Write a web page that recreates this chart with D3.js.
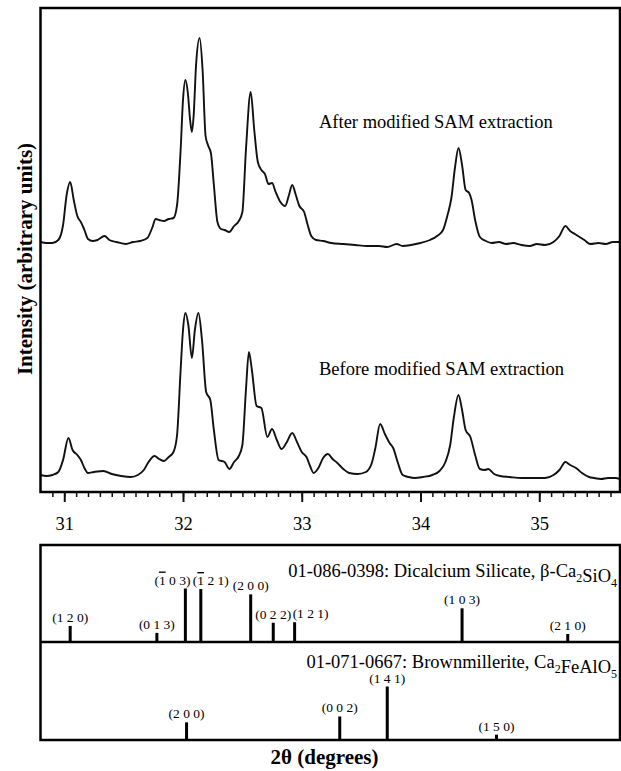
<!DOCTYPE html>
<html>
<head>
<meta charset="utf-8">
<script src="https://cdn.jsdelivr.net/npm/d3@7"></script>
<style>
  body { margin: 0; background: #fff; }
  text { font-family: "Liberation Serif", "Times New Roman", serif; fill: #000; }
</style>
</head>
<body>
<svg id="chart" width="621" height="771"></svg>
<script>
// XRD patterns, 2-theta (deg) vs intensity (arbitrary units, as stacked in the figure)
const afterTheta = [30.80, 30.85, 30.90, 30.95, 30.99, 31.02, 31.05, 31.08, 31.11, 31.14, 31.17, 31.20, 31.24, 31.28, 31.34, 31.38, 31.44, 31.52, 31.58, 31.64, 31.70, 31.74, 31.77, 31.80, 31.84, 31.88, 31.92, 31.95, 31.98, 32.00, 32.02, 32.04, 32.06, 32.075, 32.09, 32.11, 32.14, 32.165, 32.19, 32.21, 32.235, 32.26, 32.29, 32.32, 32.35, 32.39, 32.43, 32.47, 32.50, 32.53, 32.57, 32.60, 32.63, 32.66, 32.69, 32.72, 32.75, 32.78, 32.82, 32.86, 32.89, 32.92, 32.95, 32.98, 33.02, 33.05, 33.08, 33.12, 33.18, 33.25, 33.35, 33.45, 33.55, 33.65, 33.72, 33.80, 33.85, 33.92, 34.00, 34.08, 34.14, 34.19, 34.23, 34.26, 34.29, 34.32, 34.35, 34.38, 34.41, 34.43, 34.46, 34.50, 34.55, 34.60, 34.66, 34.72, 34.78, 34.85, 34.92, 34.98, 35.05, 35.12, 35.17, 35.22, 35.26, 35.30, 35.34, 35.38, 35.43, 35.50, 35.56, 35.62, 35.68];
const afterCounts = [250, 249, 249, 252, 267, 297, 310, 292, 276, 270, 262, 253, 251, 252, 256, 252, 250, 248, 250, 251, 254, 264, 273, 272, 271, 273, 274, 287, 342, 392, 412, 400, 372, 360, 377, 427, 454, 422, 356, 347, 339, 307, 270, 263, 262, 260, 266, 271, 280, 342, 400, 362, 330, 322, 318, 308, 309, 300, 290, 286, 296, 307, 297, 286, 280, 267, 256, 252, 251, 249, 248, 247, 246, 246, 245, 248, 246, 247, 249, 252, 256, 262, 278, 294, 324, 344, 327, 302, 299, 292, 272, 255, 251, 249, 250, 248, 249, 247, 246, 248, 247, 250, 256, 266, 261, 258, 255, 252, 248, 249, 248, 250, 250];

const beforeTheta = [30.80, 30.85, 30.90, 30.95, 30.99, 31.035, 31.07, 31.11, 31.14, 31.17, 31.20, 31.25, 31.33, 31.40, 31.48, 31.56, 31.62, 31.67, 31.71, 31.76, 31.80, 31.84, 31.88, 31.92, 31.95, 31.98, 32.00, 32.02, 32.045, 32.075, 32.10, 32.13, 32.16, 32.195, 32.23, 32.26, 32.30, 32.35, 32.39, 32.43, 32.47, 32.50, 32.53, 32.555, 32.58, 32.62, 32.66, 32.71, 32.75, 32.79, 32.83, 32.87, 32.92, 32.96, 33.00, 33.04, 33.07, 33.10, 33.14, 33.18, 33.22, 33.26, 33.30, 33.35, 33.40, 33.47, 33.54, 33.59, 33.62, 33.66, 33.70, 33.74, 33.77, 33.81, 33.85, 33.90, 33.95, 34.02, 34.10, 34.16, 34.21, 34.25, 34.28, 34.32, 34.35, 34.38, 34.42, 34.46, 34.50, 34.54, 34.57, 34.62, 34.67, 34.75, 34.85, 34.95, 35.05, 35.12, 35.17, 35.22, 35.26, 35.31, 35.36, 35.42, 35.46, 35.52, 35.58, 35.64, 35.68];
const beforeCounts = [17, 16, 17, 20, 32, 54, 42, 37, 32, 24, 19, 20, 21, 18, 16, 15, 17, 22, 30, 36, 33, 31, 35, 40, 57, 122, 162, 179, 167, 134, 162, 179, 152, 100, 92, 62, 32, 30, 23, 30, 36, 47, 102, 140, 122, 86, 84, 55, 63, 52, 43, 49, 59, 50, 40, 35, 26, 19, 24, 34, 38, 33, 29, 23, 19, 18, 20, 29, 44, 68, 58, 49, 44, 29, 17, 15, 14, 15, 17, 21, 30, 47, 74, 97, 82, 62, 55, 37, 23, 22, 23, 18, 16, 15, 14, 14, 14, 17, 22, 30, 27, 24, 19, 15, 14, 13, 14, 14, 13];

const xTicks = [31, 32, 33, 34, 35];

// reference patterns (relative intensity, strongest = 100)
const c2sTheta = [31.05, 31.78, 32.02, 32.15, 32.57, 32.76, 32.94, 34.35, 35.24];
const c2sInt = [30, 17, 100, 99, 89, 36, 37, 63, 15];
const c2sHkl = ["(1 2 0)", "(0 1 3)", "(-1 0 3)", "(-1 2 1)", "(2 0 0)", "(0 2 2)", "(1 2 1)", "(1 0 3)", "(2 1 0)"];

const c4afTheta = [32.03, 33.32, 33.72, 34.64];
const c4afInt = [33, 44, 100, 10];
const c4afHkl = ["(2 0 0)", "(0 0 2)", "(1 4 1)", "(1 5 0)"];

const svg = d3.select("#chart");

const left = 40.5, right = 620;
const top1 = 8, bottom1 = 492;
const top2 = 545, mid2 = 642, bottom2 = 740;

const x = d3.scaleLinear().domain([30.8, 35.68]).range([left, right]);
const y = d3.scaleLinear().domain([0, 484]).range([bottom1, top1]);
const hRef = d3.scaleLinear().domain([0, 100]).range([0, 53.5]);

// --- top panel ---
const line = d3.line()
  .x(d => x(d[0]))
  .y(d => y(d[1]))
  .curve(d3.curveMonotoneX);

[[afterTheta, afterCounts], [beforeTheta, beforeCounts]].forEach(([th, ct]) => {
  svg.append("path")
    .datum(d3.zip(th, ct))
    .attr("fill", "none")
    .attr("stroke", "#111")
    .attr("stroke-width", 1.9)
    .attr("stroke-linejoin", "round")
    .attr("d", line);
});

svg.append("rect")
  .attr("x", left).attr("y", top1)
  .attr("width", right - left).attr("height", bottom1 - top1)
  .attr("fill", "none").attr("stroke", "#000").attr("stroke-width", 2.5);

// minor + major ticks
const xAxisMinor = d3.axisBottom(x)
  .tickValues(d3.range(309, 357).map(d => d / 10))
  .tickSize(5).tickFormat("");
const xAxisMajor = d3.axisBottom(x)
  .tickValues(xTicks).tickSize(10).tickPadding(15)
  .tickFormat(d3.format("d"));

const gMinor = svg.append("g").attr("transform", `translate(0,${bottom1})`).call(xAxisMinor);
gMinor.select(".domain").remove();
gMinor.selectAll("line").attr("stroke", "#111").attr("stroke-width", 1.5);

const gMajor = svg.append("g").attr("transform", `translate(0,${bottom1})`).call(xAxisMajor);
gMajor.select(".domain").remove();
gMajor.selectAll("line").attr("stroke", "#111").attr("stroke-width", 2);
gMajor.selectAll("text")
  .attr("font-family", "Liberation Serif")
  .attr("font-size", 18.5)
  .attr("fill", "#111");

svg.append("text")
  .attr("x", 319).attr("y", 128)
  .attr("font-size", 18.5)
  .text("After modified SAM extraction");

svg.append("text")
  .attr("x", 319).attr("y", 375)
  .attr("font-size", 18.5)
  .text("Before modified SAM extraction");

svg.append("text")
  .attr("transform", "translate(32,259) rotate(-90)")
  .attr("text-anchor", "middle")
  .attr("font-size", 21)
  .attr("font-weight", "bold")
  .text("Intensity (arbitrary units)");

// --- reference panel ---
svg.append("rect")
  .attr("x", left).attr("y", top2)
  .attr("width", right - left).attr("height", bottom2 - top2)
  .attr("fill", "none").attr("stroke", "#000").attr("stroke-width", 2.5);
svg.append("line")
  .attr("x1", left).attr("x2", right)
  .attr("y1", mid2).attr("y2", mid2)
  .attr("stroke", "#000").attr("stroke-width", 2.5);

// label nudges where neighbouring labels would collide
const labelShift = { "(-1 0 3)": -13, "(-1 2 1)": 10, "(1 2 1)": 16 };

function drawRef(theta, inten, hkl, base) {
  const data = d3.zip(theta, inten, hkl);
  const g = svg.append("g");
  g.selectAll("line")
    .data(data)
    .enter()
    .append("line")
    .attr("x1", d => x(d[0])).attr("x2", d => x(d[0]))
    .attr("y1", base).attr("y2", d => base - hRef(d[1]))
    .attr("stroke", "#000")
    .attr("stroke-width", 3);

  const lab = g.selectAll("text")
    .data(data)
    .enter()
    .append("text")
    .attr("x", d => x(d[0]) + (labelShift[d[2]] || 0))
    .attr("y", d => base - hRef(d[1]) - 4)
    .attr("text-anchor", "middle")
    .attr("font-size", 13.5)
    .attr("fill", "#000");

  lab.each(function(d) {
    const t = d3.select(this);
    if (d[2].startsWith("(-")) {
      t.append("tspan").text("(");
      t.append("tspan").attr("text-decoration", "overline").text(d[2][2]);
      t.append("tspan").text(d[2].slice(3));
    } else {
      t.text(d[2]);
    }
  });
}

drawRef(c2sTheta, c2sInt, c2sHkl, mid2);
drawRef(c4afTheta, c4afInt, c4afHkl, bottom2);

function refTitle(yPos, parts) {
  const t = svg.append("text")
    .attr("x", 617).attr("y", yPos)
    .attr("text-anchor", "end")
    .attr("font-size", 18.5);
  parts.forEach(p => {
    if (p.sub) {
      t.append("tspan").attr("font-size", 12).attr("dy", 5).text(p.sub);
      t.append("tspan").attr("dy", -5).text("");
    } else {
      t.append("tspan").text(p.t);
    }
  });
}

refTitle(577, [
  { t: "01-086-0398: Dicalcium Silicate, \u03b2-Ca" }, { sub: "2" },
  { t: "SiO" }, { sub: "4" }
]);
refTitle(668, [
  { t: "01-071-0667: Brownmillerite, Ca" }, { sub: "2" },
  { t: "FeAlO" }, { sub: "5" }
]);

svg.append("text")
  .attr("x", 324.5).attr("y", 764)
  .attr("text-anchor", "middle")
  .attr("font-size", 21)
  .attr("font-weight", "bold")
  .text("2\u03b8 (degrees)");
</script>
</body>
</html>
